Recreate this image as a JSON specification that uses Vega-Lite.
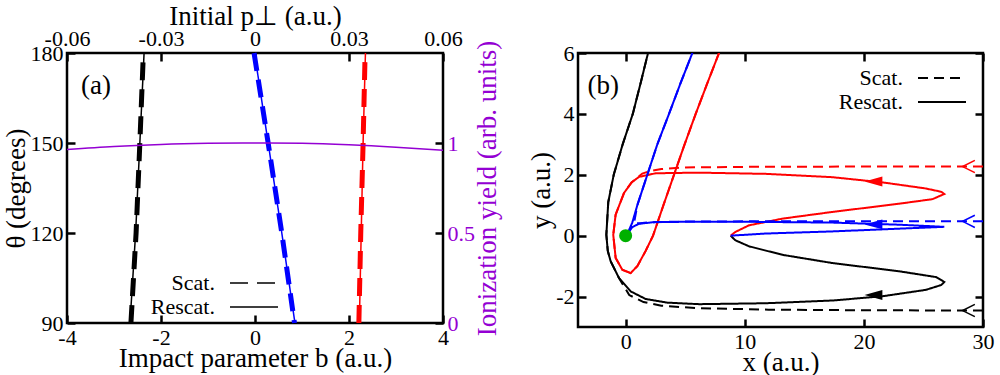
{
  "$schema": "https://vega.github.io/schema/vega-lite/v6.json",
  "padding": {"left": 0, "top": 0, "right": 2, "bottom": 0},
  "spacing": 24,
  "config": {
    "font": "Liberation Serif",
    "view": {"stroke": "black", "strokeWidth": 2.5},
    "axis": {
      "labelFont": "Liberation Serif", "titleFont": "Liberation Serif",
      "labelFontSize": 22, "titleFontSize": 27, "titleFontWeight": "normal",
      "labelColor": "black", "titleColor": "black",
      "domain": false, "grid": false, "labelFlush": false, "labelOverlap": false,
      "tickColor": "black", "tickWidth": 2.5, "tickSize": 8, "offset": -8,
      "labelPadding": 4, "titlePadding": 0,
      "labelExpr": "replace(datum.label, '−', '-')"
    },
    "legend": {"labelFont": "Liberation Serif", "labelFontSize": 22}
  },
  "resolve": {"scale": {"color": "independent", "strokeDash": "independent"}, "legend": {"strokeDash": "independent"}},
  "hconcat": [
    {
      "width": 376,
      "height": 270,
      "layer": [
        {
          "data": {"values": [
            {"t": "k", "k": "Scat.", "b": -2.64, "theta": 90},
            {"t": "k", "k": "Scat.", "b": -2.53, "theta": 120},
            {"t": "k", "k": "Scat.", "b": -2.45, "theta": 150},
            {"t": "k", "k": "Scat.", "b": -2.38, "theta": 178},
            {"t": "k", "k": "Rescat.", "b": -2.66, "theta": 90},
            {"t": "k", "k": "Rescat.", "b": -2.54, "theta": 120},
            {"t": "k", "k": "Rescat.", "b": -2.45, "theta": 150},
            {"t": "k", "k": "Rescat.", "b": -2.36, "theta": 180},
            {"t": "b", "k": "Scat.", "b": 0.84, "theta": 90},
            {"t": "b", "k": "Scat.", "b": 0.57, "theta": 120},
            {"t": "b", "k": "Scat.", "b": 0.28, "theta": 150},
            {"t": "b", "k": "Scat.", "b": -0.02, "theta": 180},
            {"t": "b", "k": "Rescat.", "b": 0.85, "theta": 90},
            {"t": "b", "k": "Rescat.", "b": 0.57, "theta": 120},
            {"t": "b", "k": "Rescat.", "b": 0.28, "theta": 150},
            {"t": "b", "k": "Rescat.", "b": -0.01, "theta": 180},
            {"t": "r", "k": "Scat.", "b": 2.21, "theta": 90},
            {"t": "r", "k": "Scat.", "b": 2.25, "theta": 120},
            {"t": "r", "k": "Scat.", "b": 2.3, "theta": 150},
            {"t": "r", "k": "Scat.", "b": 2.34, "theta": 178},
            {"t": "r", "k": "Rescat.", "b": 2.22, "theta": 90},
            {"t": "r", "k": "Rescat.", "b": 2.26, "theta": 120},
            {"t": "r", "k": "Rescat.", "b": 2.3, "theta": 150},
            {"t": "r", "k": "Rescat.", "b": 2.35, "theta": 180}
          ]},
          "layer": [
            {
              "transform": [{"filter": "datum.k === 'Rescat.'"}],
              "mark": {"type": "line", "strokeWidth": 1.5},
              "encoding": {
                "x": {"field": "b", "type": "quantitative", "scale": {"domain": [-4, 4], "nice": false}, "axis": {"orient": "bottom", "values": [-4, -2, 0, 2, 4], "title": "Impact parameter b (a.u.)", "titlePadding": -3}},
                "y": {"field": "theta", "type": "quantitative", "scale": {"domain": [90, 180], "nice": false, "zero": false}, "axis": {"orient": "left", "values": [90, 120, 150, 180], "title": "θ (degrees)", "titlePadding": 0}},
                "color": {"field": "t", "type": "nominal", "scale": {"domain": ["k", "b", "r"], "range": ["#000000", "#0000ff", "#ff0000"]}, "legend": null},
                "strokeDash": {"field": "k", "type": "nominal", "scale": {"domain": ["Scat.", "Rescat."], "range": [[18, 9], [1, 0]]},
                  "legend": {"orient": "none", "legendX": 176, "legendY": 219, "title": null, "symbolType": "M-4,0L4,0", "symbolSize": 144, "symbolStrokeColor": "black", "symbolStrokeWidth": 1.5, "labelAlign": "right", "labelOffset": -50, "rowPadding": 2, "padding": 0}}
              }
            },
            {
              "transform": [{"filter": "datum.k === 'Scat.'"}],
              "mark": {"type": "line", "strokeWidth": 5},
              "encoding": {
                "x": {"field": "b", "type": "quantitative"},
                "y": {"field": "theta", "type": "quantitative"},
                "color": {"field": "t", "type": "nominal", "legend": null},
                "strokeDash": {"field": "k", "type": "nominal"}
              }
            },
            {
              "data": {"values": [{}]},
              "mark": {"type": "text", "fontSize": 27, "align": "left", "baseline": "middle", "font": "Liberation Serif"},
              "encoding": {"x": {"datum": -3.7}, "y": {"datum": 169}, "text": {"value": "(a)"}}
            }
          ]
        },
        {
          "data": {"values": [
            {"p": -0.06, "yield": 0.964},
            {"p": -0.045, "yield": 0.981},
            {"p": -0.03, "yield": 0.992},
            {"p": -0.015, "yield": 0.998},
            {"p": 0, "yield": 1.0},
            {"p": 0.015, "yield": 0.998},
            {"p": 0.03, "yield": 0.99},
            {"p": 0.045, "yield": 0.977},
            {"p": 0.06, "yield": 0.96}
          ]},
          "mark": {"type": "line", "color": "#9400d3", "strokeWidth": 1.5, "interpolate": "monotone"},
          "encoding": {
            "x": {"field": "p", "type": "quantitative", "scale": {"domain": [-0.06, 0.06], "nice": false}, "axis": {"orient": "top", "values": [-0.06, -0.03, 0, 0.03, 0.06], "format": "~g", "title": "Initial p⊥ (a.u.)", "labelPadding": 3, "titlePadding": -3}},
            "y": {"field": "yield", "type": "quantitative", "scale": {"domain": [0, 1.5], "nice": false}, "axis": {"orient": "right", "values": [0, 0.5, 1], "format": "~g", "labelColor": "#9400d3", "titleColor": "#9400d3", "title": "Ionization yield (arb. units)", "titleAngle": 270, "titleBaseline": "top", "titlePadding": 0}}
          }
        }
      ],
      "resolve": {"scale": {"x": "independent", "y": "independent"}}
    },
    {
      "width": 405,
      "height": 274,
      "layer": [
        {
          "data": {"values": [
            {"t": "k", "k": "Rescat.", "i": 1, "x": 1.88, "y": 6},
            {"t": "k", "k": "Rescat.", "i": 2, "x": 1.25, "y": 5},
            {"t": "k", "k": "Rescat.", "i": 3, "x": 0.6, "y": 4},
            {"t": "k", "k": "Rescat.", "i": 4, "x": -0.25, "y": 3},
            {"t": "k", "k": "Rescat.", "i": 5, "x": -1.0, "y": 2},
            {"t": "k", "k": "Rescat.", "i": 6, "x": -1.46, "y": 1.1},
            {"t": "k", "k": "Rescat.", "i": 7, "x": -1.62, "y": 0.03},
            {"t": "k", "k": "Rescat.", "i": 8, "x": -1.5, "y": -0.5},
            {"t": "k", "k": "Rescat.", "i": 9, "x": -1.26, "y": -0.84},
            {"t": "k", "k": "Rescat.", "i": 10, "x": -0.56, "y": -1.39},
            {"t": "k", "k": "Rescat.", "i": 11, "x": 0.42, "y": -1.83},
            {"t": "k", "k": "Rescat.", "i": 12, "x": 1.68, "y": -2.08},
            {"t": "k", "k": "Rescat.", "i": 13, "x": 3.5, "y": -2.2},
            {"t": "k", "k": "Rescat.", "i": 14, "x": 6.16, "y": -2.25},
            {"t": "k", "k": "Rescat.", "i": 15, "x": 11.76, "y": -2.22},
            {"t": "k", "k": "Rescat.", "i": 16, "x": 17.37, "y": -2.13},
            {"t": "k", "k": "Rescat.", "i": 17, "x": 21.57, "y": -1.99},
            {"t": "k", "k": "Rescat.", "i": 18, "x": 25.2, "y": -1.78},
            {"t": "k", "k": "Rescat.", "i": 19, "x": 26.5, "y": -1.62},
            {"t": "k", "k": "Rescat.", "i": 20, "x": 26.75, "y": -1.52},
            {"t": "k", "k": "Rescat.", "i": 21, "x": 26.05, "y": -1.36},
            {"t": "k", "k": "Rescat.", "i": 22, "x": 22.97, "y": -1.17},
            {"t": "k", "k": "Rescat.", "i": 23, "x": 17.37, "y": -0.9},
            {"t": "k", "k": "Rescat.", "i": 24, "x": 13.17, "y": -0.63},
            {"t": "k", "k": "Rescat.", "i": 25, "x": 10.36, "y": -0.35},
            {"t": "k", "k": "Rescat.", "i": 26, "x": 9.2, "y": -0.15},
            {"t": "k", "k": "Rescat.", "i": 27, "x": 8.82, "y": 0},
            {"t": "k", "k": "Scat.", "i": 1, "x": 30, "y": -2.46},
            {"t": "k", "k": "Scat.", "i": 2, "x": 20, "y": -2.45},
            {"t": "k", "k": "Scat.", "i": 3, "x": 12, "y": -2.43},
            {"t": "k", "k": "Scat.", "i": 4, "x": 6, "y": -2.38},
            {"t": "k", "k": "Scat.", "i": 5, "x": 3, "y": -2.3},
            {"t": "k", "k": "Scat.", "i": 6, "x": 1.5, "y": -2.18},
            {"t": "k", "k": "Scat.", "i": 7, "x": 0.3, "y": -1.95},
            {"t": "k", "k": "Scat.", "i": 8, "x": -0.56, "y": -1.39},
            {"t": "k", "k": "Scat.", "i": 9, "x": -1.26, "y": -0.84},
            {"t": "k", "k": "Scat.", "i": 10, "x": -1.5, "y": -0.5},
            {"t": "k", "k": "Scat.", "i": 11, "x": -1.62, "y": 0.03},
            {"t": "k", "k": "Scat.", "i": 12, "x": -1.46, "y": 1.1},
            {"t": "k", "k": "Scat.", "i": 13, "x": -1.0, "y": 2},
            {"t": "k", "k": "Scat.", "i": 14, "x": -0.25, "y": 3},
            {"t": "k", "k": "Scat.", "i": 15, "x": 0.6, "y": 4},
            {"t": "k", "k": "Scat.", "i": 16, "x": 1.25, "y": 5},
            {"t": "k", "k": "Scat.", "i": 17, "x": 1.88, "y": 6},
            {"t": "r", "k": "Rescat.", "i": 1, "x": 7.84, "y": 6},
            {"t": "r", "k": "Rescat.", "i": 2, "x": 6.85, "y": 5},
            {"t": "r", "k": "Rescat.", "i": 3, "x": 5.88, "y": 4},
            {"t": "r", "k": "Rescat.", "i": 4, "x": 4.95, "y": 3},
            {"t": "r", "k": "Rescat.", "i": 5, "x": 4.06, "y": 2},
            {"t": "r", "k": "Rescat.", "i": 6, "x": 3.17, "y": 1},
            {"t": "r", "k": "Rescat.", "i": 7, "x": 2.3, "y": 0},
            {"t": "r", "k": "Rescat.", "i": 8, "x": 1.68, "y": -0.5},
            {"t": "r", "k": "Rescat.", "i": 9, "x": 0.98, "y": -1},
            {"t": "r", "k": "Rescat.", "i": 10, "x": 0.42, "y": -1.23},
            {"t": "r", "k": "Rescat.", "i": 11, "x": -0.28, "y": -1.12},
            {"t": "r", "k": "Rescat.", "i": 12, "x": -0.84, "y": -0.73},
            {"t": "r", "k": "Rescat.", "i": 13, "x": -1.04, "y": 0.03},
            {"t": "r", "k": "Rescat.", "i": 14, "x": -0.84, "y": 0.69},
            {"t": "r", "k": "Rescat.", "i": 15, "x": -0.14, "y": 1.4},
            {"t": "r", "k": "Rescat.", "i": 16, "x": 0.5, "y": 1.75},
            {"t": "r", "k": "Rescat.", "i": 17, "x": 1.12, "y": 1.93},
            {"t": "r", "k": "Rescat.", "i": 18, "x": 2.52, "y": 2.05},
            {"t": "r", "k": "Rescat.", "i": 19, "x": 6.16, "y": 2.07},
            {"t": "r", "k": "Rescat.", "i": 20, "x": 11.76, "y": 2.03},
            {"t": "r", "k": "Rescat.", "i": 21, "x": 17.37, "y": 1.92},
            {"t": "r", "k": "Rescat.", "i": 22, "x": 21.57, "y": 1.75},
            {"t": "r", "k": "Rescat.", "i": 23, "x": 25.2, "y": 1.55},
            {"t": "r", "k": "Rescat.", "i": 24, "x": 26.5, "y": 1.44},
            {"t": "r", "k": "Rescat.", "i": 25, "x": 26.75, "y": 1.37},
            {"t": "r", "k": "Rescat.", "i": 26, "x": 25.77, "y": 1.2},
            {"t": "r", "k": "Rescat.", "i": 27, "x": 22.97, "y": 1.05},
            {"t": "r", "k": "Rescat.", "i": 28, "x": 17.37, "y": 0.78},
            {"t": "r", "k": "Rescat.", "i": 29, "x": 13.17, "y": 0.56},
            {"t": "r", "k": "Rescat.", "i": 30, "x": 10.36, "y": 0.34},
            {"t": "r", "k": "Rescat.", "i": 31, "x": 9.2, "y": 0.12},
            {"t": "r", "k": "Rescat.", "i": 32, "x": 8.82, "y": 0},
            {"t": "r", "k": "Scat.", "i": 1, "x": 30, "y": 2.27},
            {"t": "r", "k": "Scat.", "i": 2, "x": 20, "y": 2.27},
            {"t": "r", "k": "Scat.", "i": 3, "x": 10, "y": 2.26},
            {"t": "r", "k": "Scat.", "i": 4, "x": 5, "y": 2.24},
            {"t": "r", "k": "Scat.", "i": 5, "x": 3, "y": 2.19},
            {"t": "r", "k": "Scat.", "i": 6, "x": 2, "y": 2.12},
            {"t": "r", "k": "Scat.", "i": 7, "x": 1.4, "y": 2.04},
            {"t": "r", "k": "Scat.", "i": 8, "x": 0.5, "y": 1.75},
            {"t": "r", "k": "Scat.", "i": 9, "x": -0.14, "y": 1.4},
            {"t": "r", "k": "Scat.", "i": 10, "x": -0.84, "y": 0.69},
            {"t": "r", "k": "Scat.", "i": 11, "x": -1.04, "y": 0.03},
            {"t": "r", "k": "Scat.", "i": 12, "x": -0.84, "y": -0.73},
            {"t": "r", "k": "Scat.", "i": 13, "x": -0.28, "y": -1.12},
            {"t": "r", "k": "Scat.", "i": 14, "x": 0.42, "y": -1.23},
            {"t": "r", "k": "Scat.", "i": 15, "x": 0.98, "y": -1},
            {"t": "r", "k": "Scat.", "i": 16, "x": 1.68, "y": -0.5},
            {"t": "r", "k": "Scat.", "i": 17, "x": 2.3, "y": 0},
            {"t": "r", "k": "Scat.", "i": 18, "x": 3.17, "y": 1},
            {"t": "r", "k": "Scat.", "i": 19, "x": 4.06, "y": 2},
            {"t": "r", "k": "Scat.", "i": 20, "x": 4.95, "y": 3},
            {"t": "r", "k": "Scat.", "i": 21, "x": 5.88, "y": 4},
            {"t": "r", "k": "Scat.", "i": 22, "x": 6.85, "y": 5},
            {"t": "r", "k": "Scat.", "i": 23, "x": 7.84, "y": 6},
            {"t": "b", "k": "Rescat.", "i": 1, "x": 5.6, "y": 6},
            {"t": "b", "k": "Rescat.", "i": 2, "x": 4.6, "y": 5},
            {"t": "b", "k": "Rescat.", "i": 3, "x": 3.64, "y": 4},
            {"t": "b", "k": "Rescat.", "i": 4, "x": 2.66, "y": 3},
            {"t": "b", "k": "Rescat.", "i": 5, "x": 1.82, "y": 2},
            {"t": "b", "k": "Rescat.", "i": 6, "x": 0.98, "y": 1},
            {"t": "b", "k": "Rescat.", "i": 7, "x": 0.55, "y": 0.42},
            {"t": "b", "k": "Rescat.", "i": 8, "x": 0.1, "y": 0.02},
            {"t": "b", "k": "Rescat.", "i": 9, "x": 0.55, "y": 0.28},
            {"t": "b", "k": "Rescat.", "i": 10, "x": 1.12, "y": 0.39},
            {"t": "b", "k": "Rescat.", "i": 11, "x": 2.52, "y": 0.45},
            {"t": "b", "k": "Rescat.", "i": 12, "x": 8.96, "y": 0.46},
            {"t": "b", "k": "Rescat.", "i": 13, "x": 17.37, "y": 0.43},
            {"t": "b", "k": "Rescat.", "i": 14, "x": 22.97, "y": 0.36},
            {"t": "b", "k": "Rescat.", "i": 15, "x": 26.75, "y": 0.29},
            {"t": "b", "k": "Rescat.", "i": 16, "x": 22.97, "y": 0.23},
            {"t": "b", "k": "Rescat.", "i": 17, "x": 17.37, "y": 0.14},
            {"t": "b", "k": "Rescat.", "i": 18, "x": 11.76, "y": 0.07},
            {"t": "b", "k": "Rescat.", "i": 19, "x": 8.82, "y": 0},
            {"t": "b", "k": "Scat.", "i": 1, "x": 30, "y": 0.47},
            {"t": "b", "k": "Scat.", "i": 2, "x": 20, "y": 0.47},
            {"t": "b", "k": "Scat.", "i": 3, "x": 10, "y": 0.47},
            {"t": "b", "k": "Scat.", "i": 4, "x": 4, "y": 0.46},
            {"t": "b", "k": "Scat.", "i": 5, "x": 2, "y": 0.44},
            {"t": "b", "k": "Scat.", "i": 6, "x": 1.2, "y": 0.41},
            {"t": "b", "k": "Scat.", "i": 7, "x": 0.7, "y": 0.4},
            {"t": "b", "k": "Scat.", "i": 8, "x": 0.98, "y": 1},
            {"t": "b", "k": "Scat.", "i": 9, "x": 1.82, "y": 2},
            {"t": "b", "k": "Scat.", "i": 10, "x": 2.66, "y": 3},
            {"t": "b", "k": "Scat.", "i": 11, "x": 3.64, "y": 4},
            {"t": "b", "k": "Scat.", "i": 12, "x": 4.6, "y": 5},
            {"t": "b", "k": "Scat.", "i": 13, "x": 5.6, "y": 6}
          ]},
          "mark": {"type": "line", "strokeWidth": 2, "clip": true},
          "encoding": {
            "x": {"field": "x", "type": "quantitative", "scale": {"domain": [-4, 30], "nice": false}, "axis": {"orient": "bottom", "values": [0, 10, 20, 30], "title": "x (a.u.)", "titlePadding": -3}},
            "y": {"field": "y", "type": "quantitative", "scale": {"domain": [-3, 6], "nice": false}, "axis": {"orient": "left", "values": [-2, 0, 2, 4, 6], "title": "y (a.u.)", "titlePadding": 0}},
            "order": {"field": "i", "type": "quantitative"},
            "color": {"field": "t", "type": "nominal", "scale": {"domain": ["k", "b", "r"], "range": ["#000000", "#0000ff", "#ff0000"]}, "legend": null},
            "strokeDash": {"field": "k", "type": "nominal", "scale": {"domain": ["Scat.", "Rescat."], "range": [[10, 6], [1, 0]]},
              "legend": {"orient": "none", "legendX": 353, "legendY": 14, "title": null, "symbolType": "M-4,0L4,0", "symbolSize": 144, "symbolStrokeColor": "black", "symbolStrokeWidth": 2, "labelAlign": "right", "labelOffset": -50, "rowPadding": 2, "padding": 0}}
          }
        },
        {
          "data": {"values": [
            {"t": "r", "x": 20.8, "y": 1.78},
            {"t": "b", "x": 20.8, "y": 0.37},
            {"t": "k", "x": 20.8, "y": -1.95}
          ]},
          "mark": {"type": "point", "shape": "M1,-0.55L-1,0L1,0.55Z", "filled": true, "size": 320, "opacity": 1},
          "encoding": {
            "x": {"field": "x", "type": "quantitative", "axis": null},
            "y": {"field": "y", "type": "quantitative", "axis": null},
            "color": {"field": "t", "type": "nominal", "scale": {"domain": ["k", "b", "r"], "range": ["#000000", "#0000ff", "#ff0000"]}, "legend": null}
          }
        },
        {
          "data": {"values": [
            {"t": "r", "x": 28.8, "y": 2.27},
            {"t": "b", "x": 28.8, "y": 0.47},
            {"t": "k", "x": 28.8, "y": -2.46}
          ]},
          "mark": {"type": "point", "shape": "M1,-1L-1,0L1,1", "filled": false, "size": 150, "strokeWidth": 1.5, "opacity": 1},
          "encoding": {
            "x": {"field": "x", "type": "quantitative", "axis": null},
            "y": {"field": "y", "type": "quantitative", "axis": null},
            "color": {"field": "t", "type": "nominal", "scale": {"domain": ["k", "b", "r"], "range": ["#000000", "#0000ff", "#ff0000"]}, "legend": null}
          }
        },
        {
          "data": {"values": [{"x": 0, "y": 0}]},
          "mark": {"type": "circle", "color": "#00b000", "size": 170, "opacity": 1},
          "encoding": {
            "x": {"field": "x", "type": "quantitative", "axis": null},
            "y": {"field": "y", "type": "quantitative", "axis": null}
          }
        },
        {
          "data": {"values": [{"x": 0, "y": 0}]},
          "mark": {"type": "point", "opacity": 0},
          "encoding": {
            "x": {"field": "x", "type": "quantitative", "axis": {"orient": "top", "values": [0, 10, 20, 30], "labels": false, "title": null}},
            "y": {"field": "y", "type": "quantitative", "axis": {"orient": "right", "values": [-2, 0, 2, 4, 6], "labels": false, "title": null}}
          }
        },
        {
          "data": {"values": [{}]},
          "mark": {"type": "text", "fontSize": 27, "align": "left", "baseline": "middle", "font": "Liberation Serif"},
          "encoding": {"x": {"datum": -3.2, "axis": null}, "y": {"datum": 4.9, "axis": null}, "text": {"value": "(b)"}}
        }
      ],
      "resolve": {"axis": {"x": "independent", "y": "independent"}}
    }
  ]
}
